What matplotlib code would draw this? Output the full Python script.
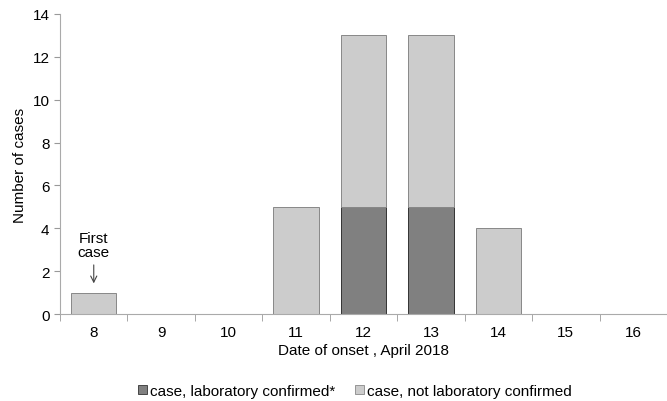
import numpy as np
import matplotlib.pyplot as plt
from matplotlib.patches import Patch

days = ['8', '9', '10', '11', '12', '13', '14', '15', '16']
confirmed = [0, 0, 0, 0, 5, 5, 0, 0, 0]
not_confirmed = [1, 0, 0, 5, 8, 8, 4, 0, 0]

plt.rcParams['font.family'] = ['Liberation Sans', 'DejaVu Sans']

fig = plt.figure(figsize=(6.67, 4.02), dpi=100)
ax = fig.add_axes([0.09, 0.2164, 0.91, 0.7463])

x = np.arange(len(days))
conf = np.array(confirmed)
notc = np.array(not_confirmed)
dark = '#808080'
light = '#cccccc'

# skip empty segments so no flat outlines are drawn on the axis
m1 = conf > 0
ax.bar(x[m1], conf[m1], width=0.67, color=dark, edgecolor='#333333', linewidth=0.7)
m2 = notc > 0
ax.bar(x[m2], notc[m2], width=0.67, bottom=conf[m2], color=light,
       edgecolor='#888888', linewidth=0.7)

ax.set_xlim(-0.5, len(days) - 0.5)
ax.set_ylim(0, 14)
ax.set_yticks(range(0, 15, 2))
ax.set_xticks(x)
ax.set_xticklabels(days)
ax.set_xticks(np.arange(-0.5, len(days)), minor=True)
ax.tick_params(axis='x', which='major', length=0, pad=8, labelsize=11)
ax.tick_params(axis='x', which='minor', length=5, color='#999999', direction='out')
ax.tick_params(axis='y', length=4, color='#999999', labelsize=11)

for s in ['top', 'right']:
    ax.spines[s].set_visible(False)
for s in ['left', 'bottom']:
    ax.spines[s].set_color('#aaaaaa')

ax.set_ylabel('Number of cases', fontsize=11)
ax.set_xlabel('Date of onset , April 2018', fontsize=11, labelpad=3)

ax.annotate('First\ncase', xy=(0, 1.3), xytext=(0, 2.55), ha='center', va='bottom',
            fontsize=11, linespacing=1.05,
            arrowprops=dict(arrowstyle='->', color='#444444', lw=0.8))

handles = [Patch(facecolor=dark, edgecolor='#333333', linewidth=0.6),
           Patch(facecolor=light, edgecolor='#888888', linewidth=0.6)]
fig.legend(handles, ['case, laboratory confirmed*', 'case, not laboratory confirmed'],
           loc='center', bbox_to_anchor=(0.532, 0.025), ncol=2, frameon=False,
           fontsize=11, handlelength=0.6, handleheight=0.6, handletextpad=0.2,
           columnspacing=1.3, borderpad=0.1)

fig.savefig('out.png', dpi=100)
